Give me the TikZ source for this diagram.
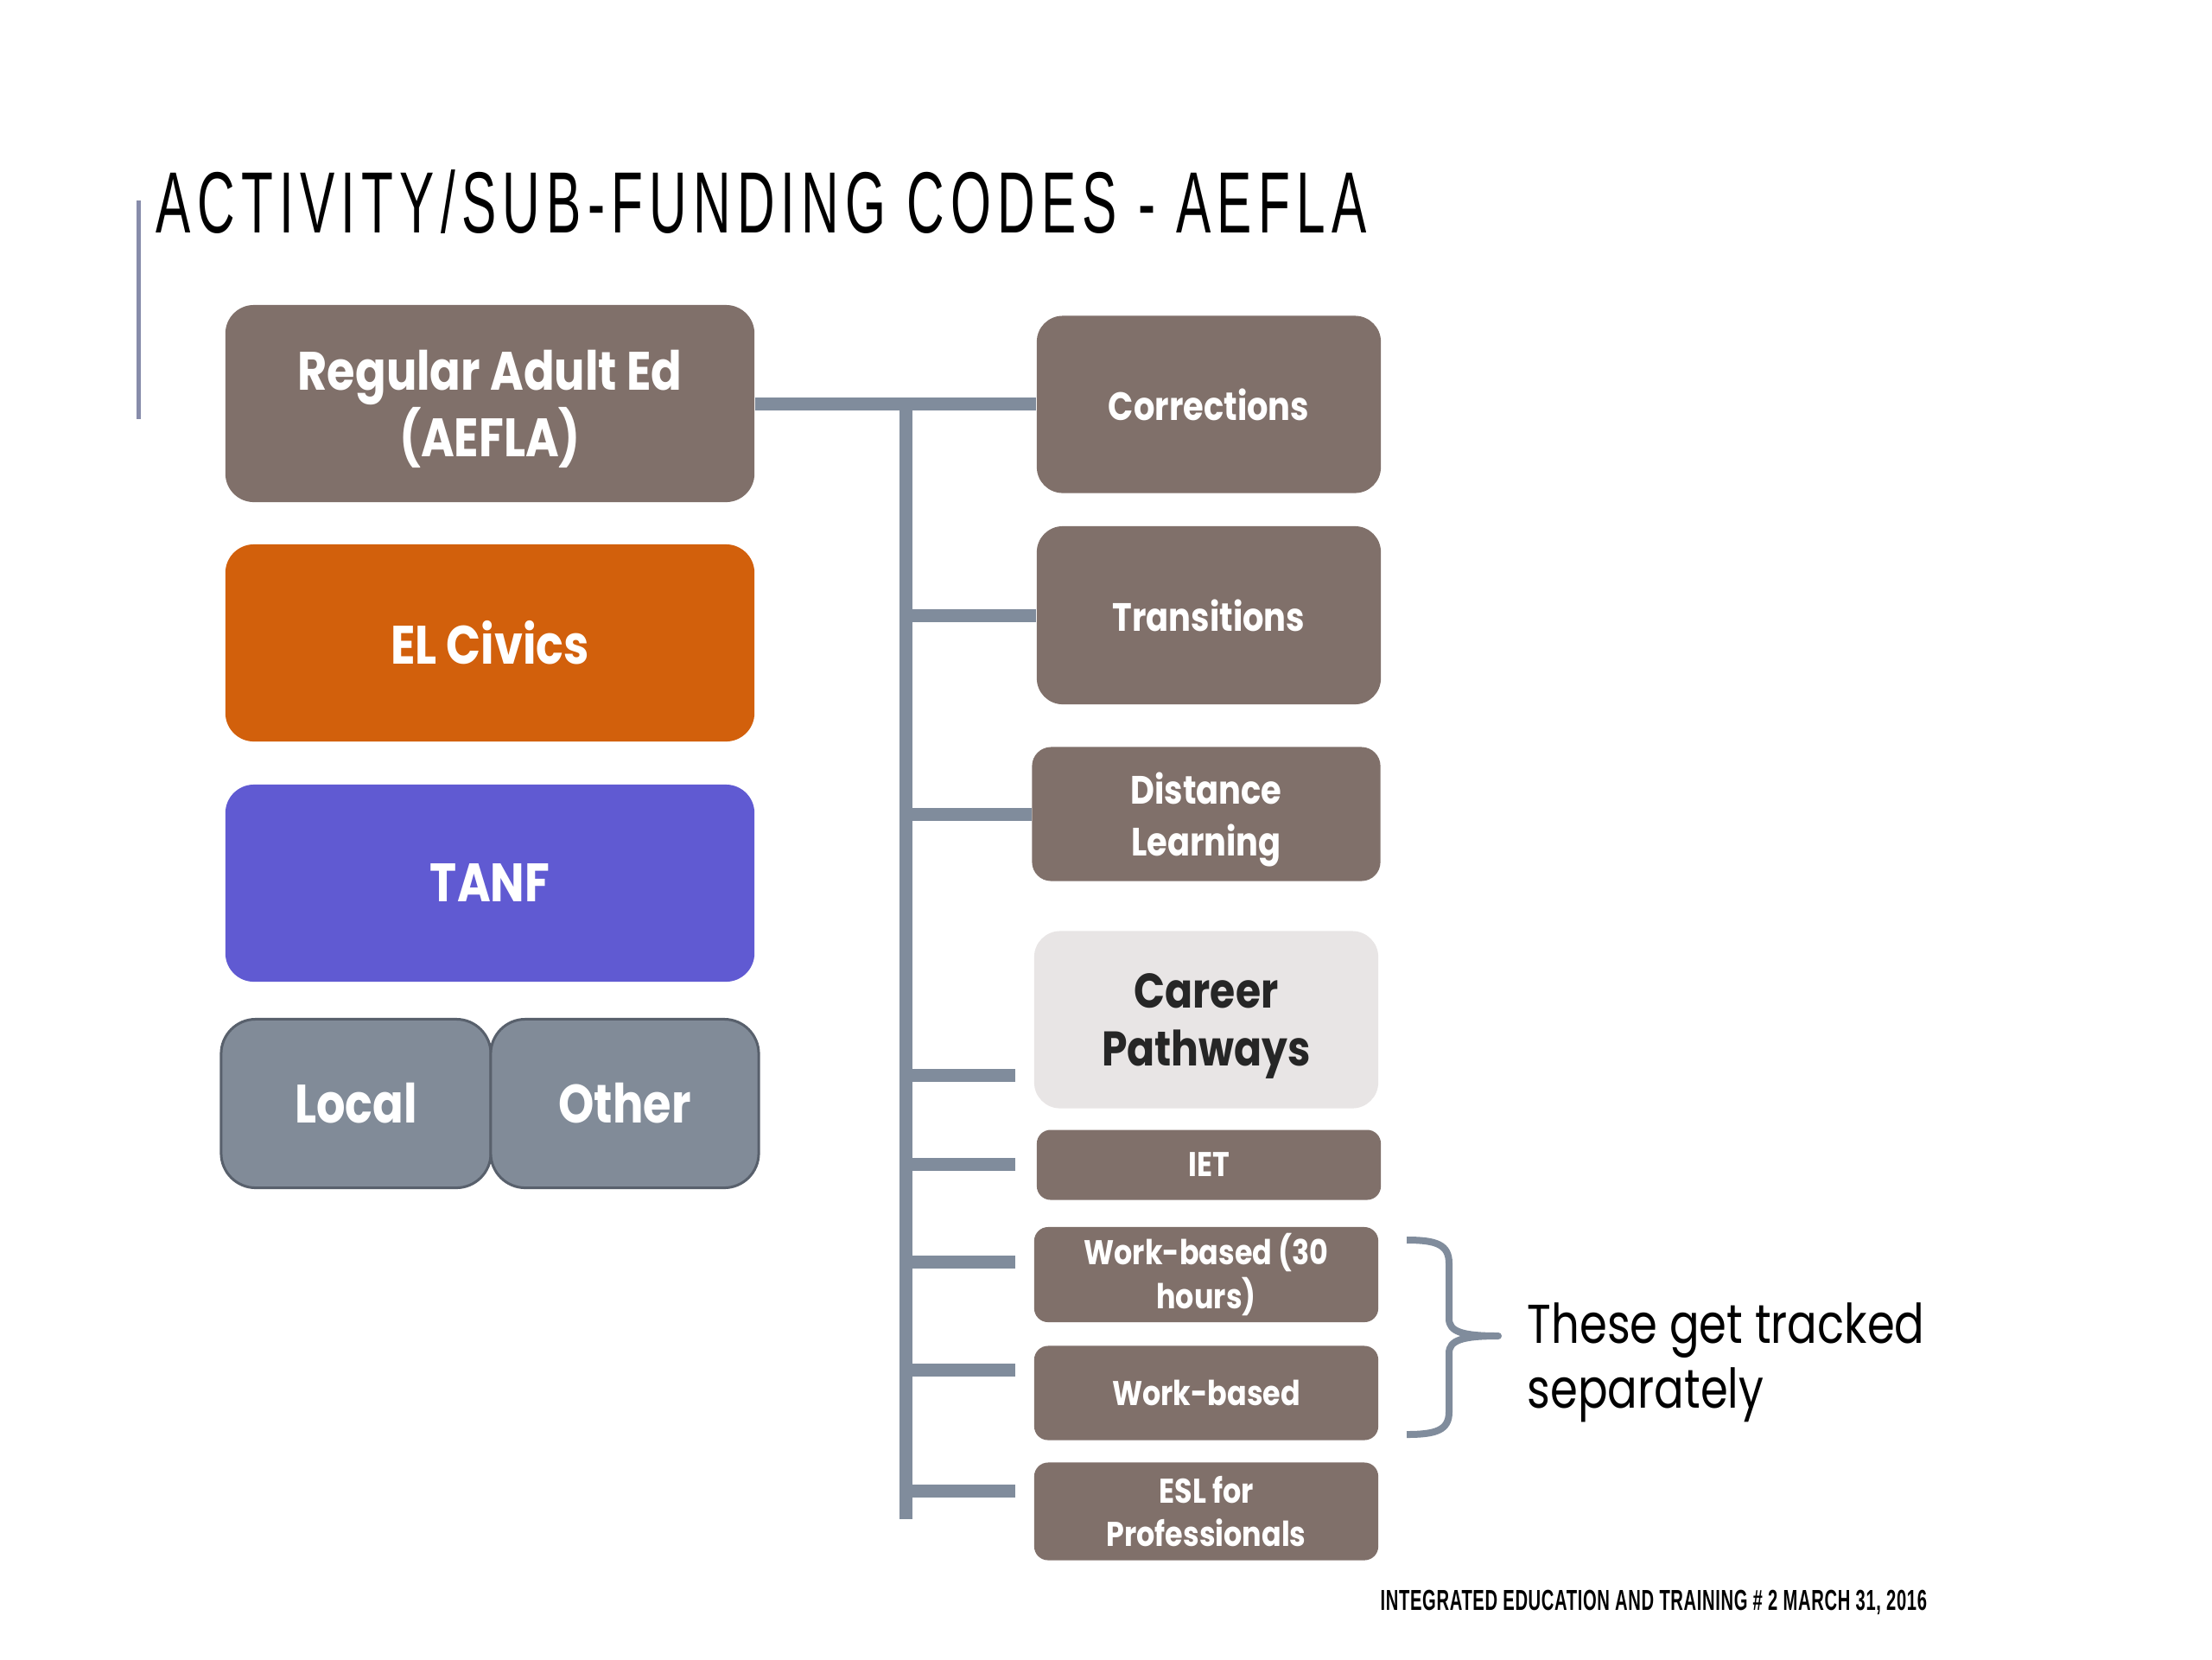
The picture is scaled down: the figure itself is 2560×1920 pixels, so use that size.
\documentclass[tikz,border=0pt]{standalone}
\usepackage{fontspec}
\usepackage{graphicx}
\setmainfont{Poppins}
\newfontfamily\titlefont[LetterSpace=12]{Liberation Sans}
\newfontfamily\footfont[LetterSpace=3]{Liberation Sans}
\newfontfamily\boxfont[FakeStretch=0.84]{Poppins}
\newfontfamily\notefont[FakeStretch=0.81]{Poppins}
\newcommand\tightlns{\lineskiplimit=-30pt\relax\lineskip=0pt\relax}
\definecolor{brownbox}{RGB}{128,112,106}
\definecolor{orangebox}{RGB}{210,96,12}
\definecolor{purplebox}{RGB}{96,90,210}
\definecolor{slatebox}{RGB}{129,139,152}
\definecolor{slateedge}{RGB}{88,96,108}
\definecolor{connector}{RGB}{128,140,156}
\definecolor{lightbox}{RGB}{232,229,229}
\definecolor{sideline}{RGB}{135,140,170}
\definecolor{darktext}{RGB}{38,38,38}
\tikzset{
  bx/.style={inner sep=0pt, align=center, text=white},
  bigbox/.style={bx, minimum width=6.12cm, minimum height=2.28cm, rounded corners=0.33cm,
    font=\boxfont\bfseries\fontsize{17.8}{21.9}\selectfont\tightlns},
  lobox/.style={bx, draw=slateedge, line width=0.03cm, fill=slatebox, minimum height=1.95cm,
    rounded corners=0.4cm, font=\boxfont\bfseries\fontsize{17.8}{21.9}\selectfont},
  midbox/.style={bx, fill=brownbox, minimum width=3.98cm, rounded corners=0.3cm,
    font=\boxfont\bfseries\fontsize{13}{17}\selectfont\tightlns},
  smallbox/.style={bx, fill=brownbox, minimum width=3.98cm, rounded corners=0.16cm,
    font=\boxfont\bfseries\fontsize{11.3}{14.4}\selectfont\tightlns},
  twoline/.style={text depth=0pt},
  conn/.style={draw=connector, line width=0.15cm},
  notetext/.style={anchor=base west, inner sep=0pt, text=black,
    font=\notefont\fontsize{18}{21.4}\selectfont},
}
\begin{document}
\begin{tikzpicture}[x=0.01cm,y=-0.01cm]
\useasboundingbox[fill=white] (0,0) rectangle (2560,1920);
% side line
\draw[sideline, line width=0.05cm] (160,232) -- (160,485);
% title
\node[anchor=base west, inner sep=0pt] (title) at (180,269)
  {\resizebox{14.0cm}{\height}{\titlefont\fontsize{28.6}{30}\selectfont ACTIVITY/SUB-FUNDING CODES - AEFLA}};
% left boxes
\node[bigbox, twoline, fill=brownbox] (reg) at (567,467) {Regular Adult Ed\\(AEFLA)};
\node[bigbox, fill=orangebox] (elc) at (567,744) {EL Civics};
\node[bigbox, fill=purplebox] (tanf) at (567,1022) {TANF};
\node[lobox, minimum width=3.12cm] (local) at (412,1277) {Local};
\node[lobox, minimum width=3.10cm] (other) at (723,1277) {Other};
% right boxes
\node[midbox, minimum height=2.05cm] (corr) at (1399,468) {Corrections};
\node[midbox, minimum height=2.06cm] (trans) at (1399,712) {Transitions};
\node[midbox, twoline, minimum width=4.03cm, minimum height=1.55cm, rounded corners=0.22cm] (dist) at (1396,942) {Distance\\Learning};
\node[bx, twoline, fill=lightbox, text=darktext, minimum width=3.98cm, minimum height=2.05cm, rounded corners=0.3cm,
  font=\boxfont\bfseries\fontsize{16}{19.2}\selectfont\tightlns] (career) at (1396,1180) {Career\\Pathways};
\node[smallbox, minimum height=0.81cm] (iet) at (1399,1348) {IET};
\node[smallbox, minimum height=1.10cm] (wb30) at (1396,1475) {Work-based (30\\hours)};
\node[smallbox, minimum height=1.09cm] (wb) at (1396,1612) {Work-based};
\node[smallbox, minimum height=1.13cm] (esl) at (1396,1749) {ESL for\\Professionals};
% connectors
\coordinate (trunktop) at (1048,467);
\coordinate (trunkbot) at (1048,1750);
\coordinate (bcar) at (1175,1244);
\coordinate (biet) at (1175,1347);
\coordinate (bwb30) at (1175,1460);
\coordinate (bwb) at (1175,1585);
\coordinate (besl) at (1175,1725);
\draw[conn] (reg.east) -- (reg.east -| corr.west);
\draw[conn, line cap=rect] (trunktop) -- (trunkbot);
\draw[conn] (trans.west -| trunktop) -- (trans.west);
\draw[conn] (dist.west -| trunktop) -- (dist.west);
\draw[conn] (bcar -| trunktop) -- (bcar);
\draw[conn] (biet -| trunktop) -- (biet);
\draw[conn] (bwb30 -| trunktop) -- (bwb30);
\draw[conn] (bwb -| trunktop) -- (bwb);
\draw[conn] (besl -| trunktop) -- (besl);
% brace
\draw[draw=connector, line width=0.08cm, line join=round]
  (1628,1435) .. controls (1662,1435) and (1677,1440) .. (1677,1462)
  -- (1677,1526) .. controls (1677,1541) and (1692,1546) .. (1734,1546)
  .. controls (1692,1546) and (1677,1551) .. (1677,1566)
  -- (1677,1634) .. controls (1677,1655) and (1662,1660) .. (1628,1660);
% note
\node[notetext] (note1) at (1767,1554) {These get tracked};
\node[notetext] (note2) at (1767,1629) {separately};
% footer
\node[anchor=base west, inner sep=0pt] (footer) at (1597,1863)
  {\resizebox{6.32cm}{\height}{\footfont\bfseries\fontsize{9.5}{10}\selectfont INTEGRATED EDUCATION AND TRAINING \# 2 MARCH 31, 2016}};
\end{tikzpicture}
\end{document}
